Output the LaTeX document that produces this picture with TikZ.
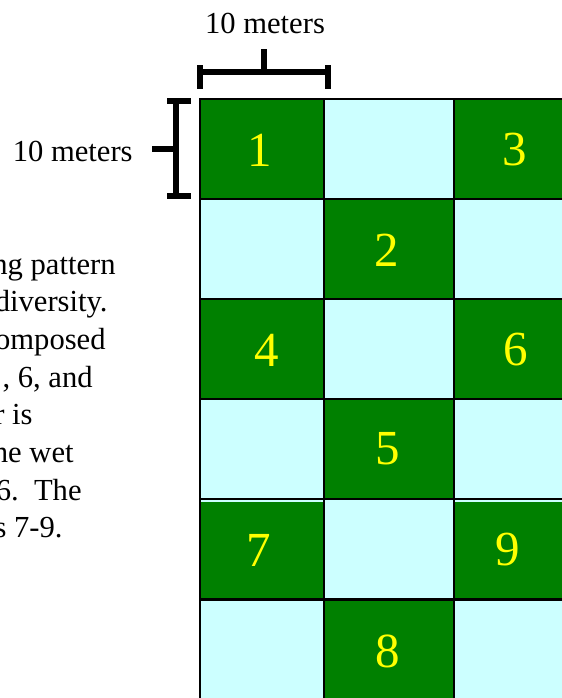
\documentclass[tikz,border=0pt]{standalone}
\usepackage{fontspec}
\setmainfont{Liberation Serif}
\usetikzlibrary{positioning}
\definecolor{plotgreen}{HTML}{008000}
\definecolor{plotcyan}{HTML}{CCFFFF}
\definecolor{plotyellow}{HTML}{FFFF00}

\begin{document}
\begin{tikzpicture}[
    x=0.5pt,
    y=-0.5pt,
    wet/.style={
        draw=black,
        fill=plotgreen,
        line width=1pt
    },
    dry/.style={
        draw=black,
        fill=plotcyan,
        line width=1pt
    },
    plotnum/.style={
        text=plotyellow,
        font=\fontsize{24.5}{28}\selectfont,
        inner sep=0pt
    },
    dimtext/.style={
        font=\fontsize{15.3}{18}\selectfont,
        inner sep=0pt
    },
    bracket/.style={
        line width=2.75pt
    }
]

% Frame
\path[use as bounding box, clip] (0,0) rectangle (562,698);

% Checkerboard of plots
\foreach \r/\y in {0/99,1/199,2/299,3/399,4/499,5/600} {
    \foreach \c/\x/\w in {0/200/124,1/324/130,2/454/130} {
        \ifodd\numexpr\r+\c\relax \def\kind{dry}\else \def\kind{wet}\fi
        \draw[\kind] (\x,\y) rectangle ++(\w,100);
    }
}

% Thin gap between the two tables
\foreach \x/\w in {201/122,325/128,455/128} {
    \fill[plotcyan] (\x,500) rectangle ++(\w,2);
}

% Plot numbers
\foreach \n/\x/\y in {1/260/150,2/387/250,3/515/150,4/267/350,5/388/449,
                      6/516/350,7/259/550,8/388/651,9/508/550} {
    \node[plotnum] (p\n) at (\x,\y) {\n};
}

% Scale bars
\draw[bracket] (200,65) -- (200,89) (328,65) -- (328,89)
    (200,72) -- (328,72) (264,49) -- (264,72);
\draw[bracket] (167,101) -- (191,101) (167,196) -- (191,196)
    (176,101) -- (176,196) (152,149) -- (176,149);

\node[dimtext, anchor=base] (wlab) at (265,33) {10 meters};
\node[dimtext, anchor=base east] (hlab) at (133,161) {10 meters};

% Caption, cut at the left edge
\foreach \t/\x/\y in {ng pattern/116/274, diversity./108/311, omposed/106/349,
                      {, 6, and}/93/387, r is/33/424, he wet/74/462,
                      {6.\ \ The}/82/500, s 7-9./63/537} {
    \node[dimtext, anchor=base east] at (\x,\y) {\t};
}

\end{tikzpicture}
\end{document}
